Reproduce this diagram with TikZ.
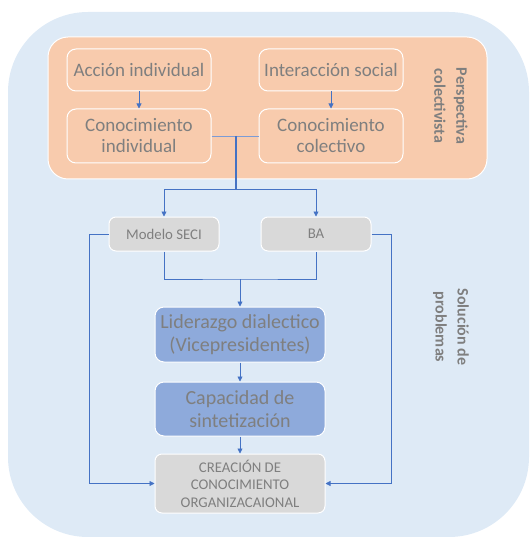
\documentclass[tikz,border=0pt]{standalone}
\usepackage{fontspec}
\setmainfont{Carlito}
\usepackage{tikz}
\usetikzlibrary{arrows.meta,positioning,calc}
\definecolor{bgblue}{HTML}{DEEAF6}
\definecolor{peach}{HTML}{F8CBAD}
\definecolor{boxgray}{HTML}{D9D9D9}
\definecolor{boxblue}{HTML}{8EAADB}
\definecolor{linkblue}{HTML}{4472C4}
\definecolor{txtgray}{HTML}{7F7F7F}

\begin{document}
\begin{tikzpicture}[x=1pt,y=-1pt]
\tikzstyle{pbox}=[rectangle,rounded corners=9pt,draw=white,line width=1pt,fill=peach,text=txtgray,align=center,minimum width=144pt,font=\fontsize{19}{21}\selectfont]
\tikzstyle{gbox}=[rectangle,rounded corners=7pt,draw=white,line width=1pt,fill=boxgray,text=txtgray,align=center,minimum width=110pt,minimum height=34pt,font=\fontsize{14.8}{17.5}\selectfont]
\tikzstyle{bbox}=[rectangle,rounded corners=9pt,draw=white,line width=1pt,fill=boxblue,text=txtgray,align=center,minimum width=170pt,font=\fontsize{20}{23}\selectfont]
\tikzstyle{side}=[rotate=-90,align=center,text=txtgray,font=\bfseries\fontsize{16}{22}\selectfont]
\tikzstyle{link}=[color=linkblue,line width=0.8pt]
\tikzstyle{arr}=[link,-{Triangle[length=5pt,width=5pt]}]

\useasboundingbox (0,0) rectangle (529,537);
\fill[bgblue,rounded corners=80pt] (8,12) rectangle (529,537);

\node [rectangle,rounded corners=20pt,draw=white,line width=1pt,fill=peach,minimum width=439pt,minimum height=142pt] (persp) at (267.5,108) {};

\node [pbox,minimum height=42pt] (accion) at (139,70) {Acción individual};
\node [pbox,minimum height=42pt] (interac) at (331,70) {Interacción social};
\node [pbox,minimum height=54pt] (conind) at (139,136) {Conocimiento\\individual};
\node [pbox,minimum height=54pt] (concol) at (331,136) {Conocimiento\\colectivo};

\node [gbox] (seci) at (164,234) {Modelo SECI};
\node [gbox] (ba) at (316,234) {BA};

\node [bbox,minimum height=55pt] (lider) at (240,334.5) {Liderazgo dialectico\\(Vicepresidentes)};
\node [bbox,minimum height=54pt] (capac) at (240,409) {Capacidad de\\sintetización};
\node [gbox,minimum width=170pt,minimum height=59pt] (crea) at (240,483.5) {CREACIÓN DE\\CONOCIMIENTO\\ORGANIZACAIONAL};

\node [side] (lblpersp) at (451,106) {Perspectiva\\colectivista};
\node [side] (lblsol) at (451,327) {Solución de\\problemas};

\coordinate (j1) at (236,136);
\coordinate (j2) at (236,189);
\coordinate (j3) at (240,279);
\coordinate (lft) at (89,234);
\coordinate (rgt) at (391,234);

\path [arr] (accion) edge (conind);
\path [arr] (interac) edge (concol);
\draw [link,color=linkblue!70] (conind.east) -- (concol.west);
\draw [link,line width=1.2pt] (j1) -- (j2);
\draw [arr] (j2) -| (seci.north);
\draw [arr] (j2) -| (ba.north);
\draw [link] (seci.south) |- (j3) -| (ba.south);
\draw [arr] (j3) -- (lider.north);
\path [arr] (lider) edge (capac);
\path [arr] (capac) edge (crea);
\draw [arr] (seci.west) -- (lft) |- (crea.west);
\draw [arr] (ba.east) -- (rgt) |- (crea.east);
\end{tikzpicture}
\end{document}
